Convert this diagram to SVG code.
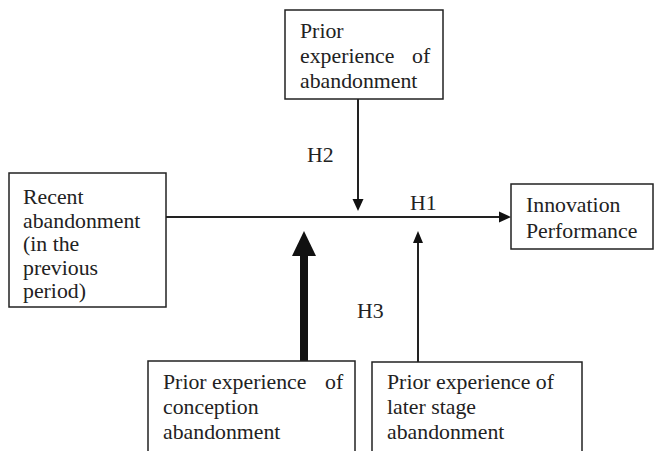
<svg xmlns="http://www.w3.org/2000/svg" width="654" height="451" viewBox="0 0 654 451">
<style>
.box{fill:#fff;stroke:#222;stroke-width:1.5}
.t{font-family:"Liberation Serif","Times New Roman",serif;font-size:21.8px;fill:#222}
.ln{stroke:#222;stroke-width:2;fill:none}
.hd{fill:#111}
</style>
<rect width="654" height="451" fill="#fff"/>
<g id="connectors">
<line class="ln" x1="166" y1="217" x2="502" y2="217"/>
<polygon class="hd" points="511,217 499,211.5 499,222.5"/>
<line class="ln" x1="358" y1="99" x2="358" y2="201"/>
<polygon class="hd" points="358,211 352.5,199 363.5,199"/>
<rect class="hd" x="300" y="252" width="8" height="109"/>
<polygon class="hd" points="304,231 292,256 316,256"/>
<line class="ln" x1="418" y1="241" x2="418" y2="362"/>
<polygon class="hd" points="418,231 413,243 423,243"/>
<text class="t" x="307" y="162">H2</text>
<text class="t" x="410" y="210">H1</text>
<text class="t" x="357" y="318">H3</text>
</g>
<g id="prior">
<rect class="box" x="285" y="10" width="158" height="89"/>
<text class="t" x="300" y="38">Prior</text>
<text class="t" x="300" y="63">experience</text>
<text class="t" x="412" y="63">of</text>
<text class="t" x="300" y="88">abandonment</text>
</g>
<g id="recent">
<rect class="box" x="9" y="173" width="157" height="134"/>
<text class="t" x="23" y="203.5">Recent</text>
<text class="t" x="23" y="227.5">abandonment</text>
<text class="t" x="23" y="251">(in the</text>
<text class="t" x="23" y="274.5">previous</text>
<text class="t" x="23" y="298">period)</text>
</g>
<g id="performance">
<rect class="box" x="511" y="184" width="142" height="65"/>
<text class="t" x="526" y="212">Innovation</text>
<text class="t" x="526" y="238">Performance</text>
</g>
<g id="conception">
<rect class="box" x="148" y="361" width="207" height="100"/>
<text class="t" x="163" y="389">Prior</text>
<text class="t" x="212" y="389">experience</text>
<text class="t" x="325" y="389">of</text>
<text class="t" x="163" y="414">conception</text>
<text class="t" x="163" y="439">abandonment</text>
</g>
<g id="later">
<rect class="box" x="372" y="362" width="210" height="100"/>
<text class="t" x="387" y="389">Prior experience of</text>
<text class="t" x="387" y="414">later stage</text>
<text class="t" x="387" y="439">abandonment</text>
</g>
</svg>
